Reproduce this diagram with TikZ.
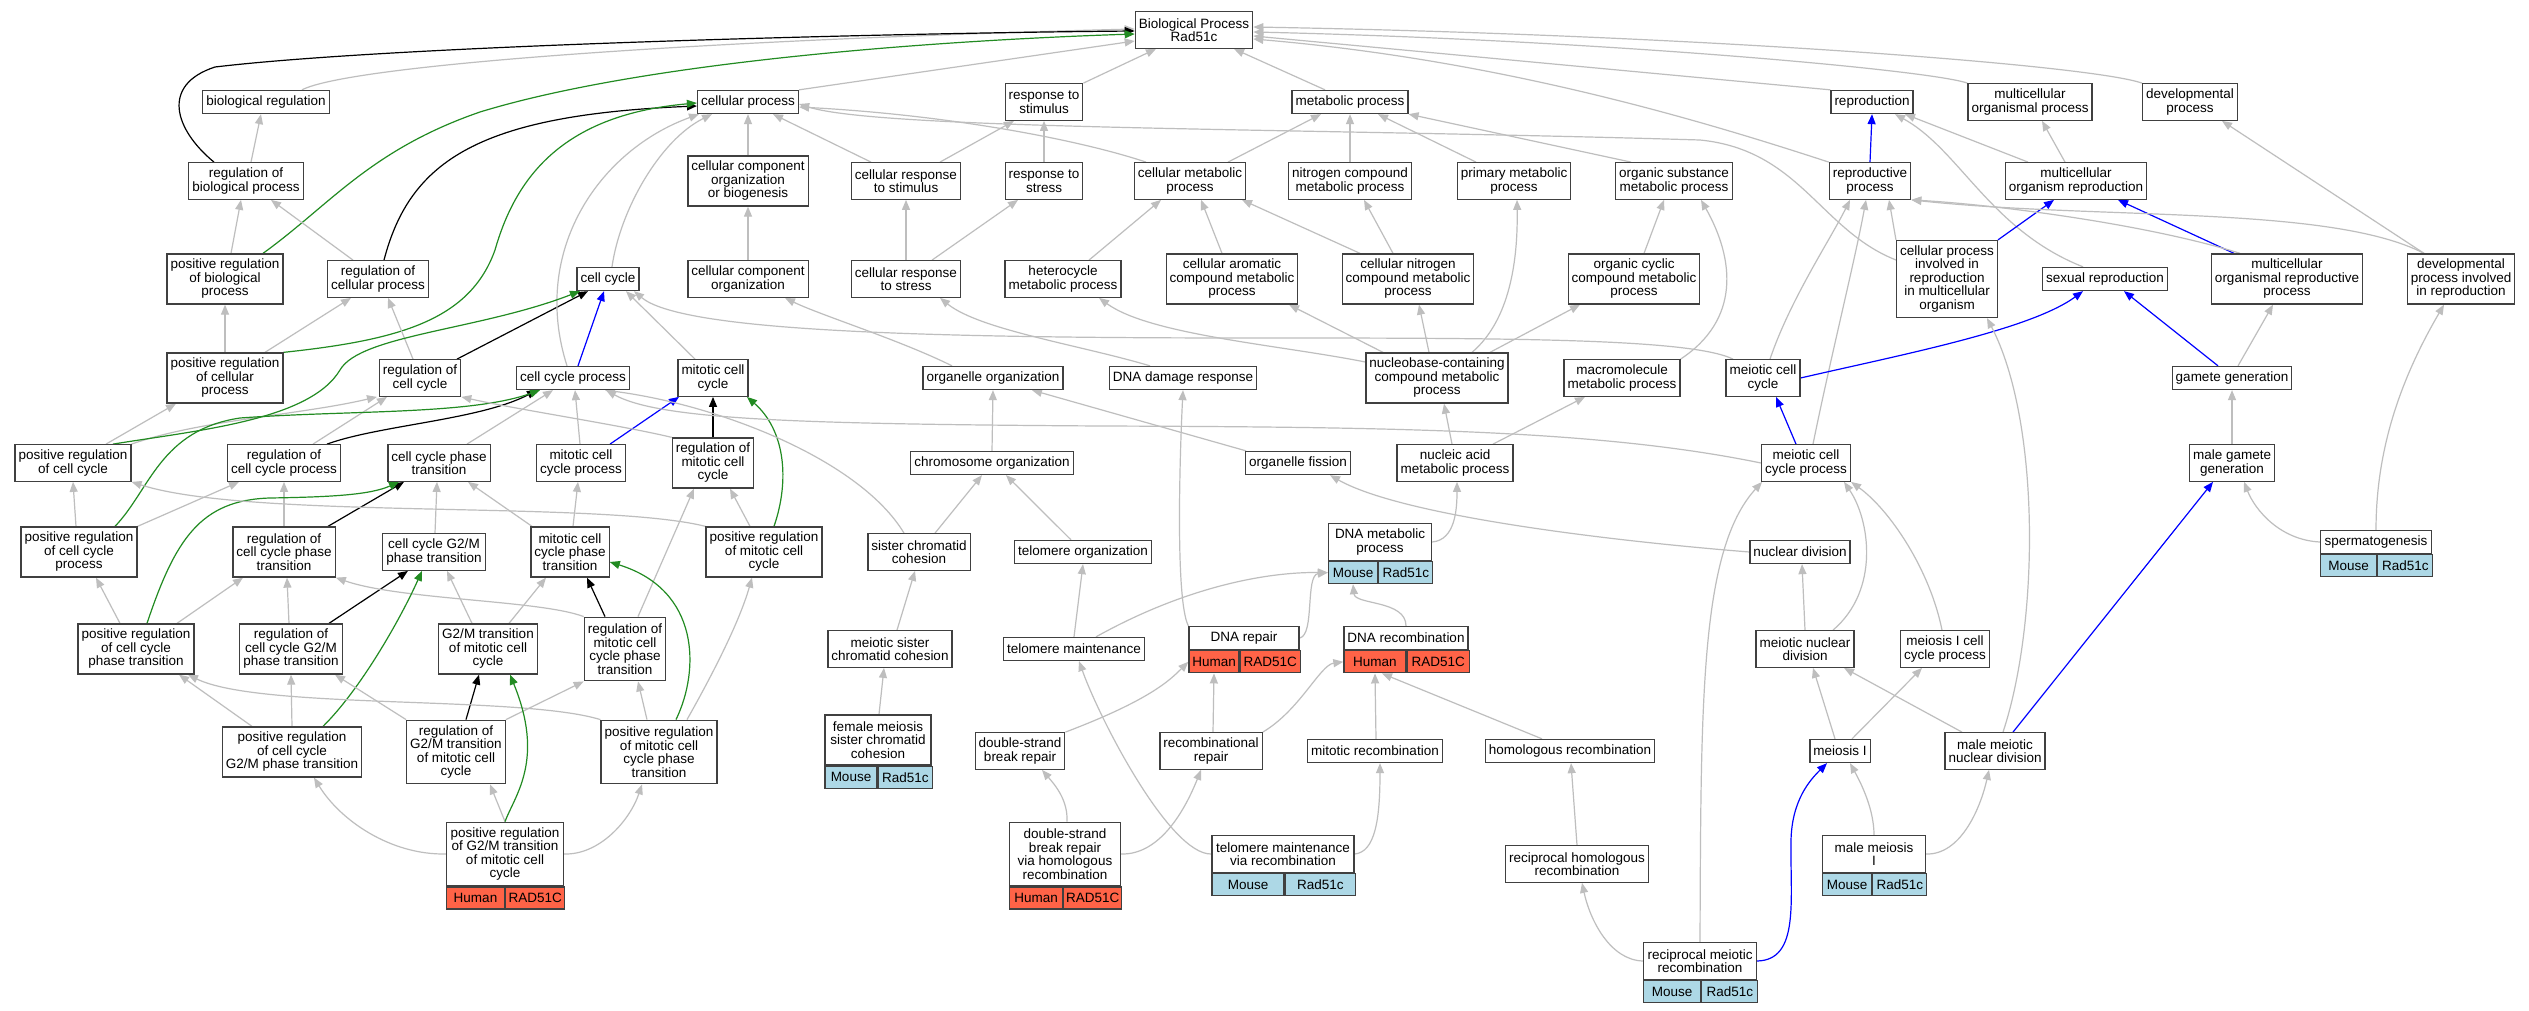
\documentclass[tikz,border=0pt]{standalone}
\usepackage{fontspec}
\setmainfont{Liberation Sans}
\usetikzlibrary{arrows.meta}
\definecolor{isagray}{HTML}{BEBEBE}
\definecolor{posgreen}{HTML}{228B22}
\definecolor{partblue}{HTML}{0000FF}
\definecolor{humanred}{HTML}{FF6347}
\definecolor{mouseblue}{HTML}{ADD8E6}
\newcommand{\gofont}{\fontsize{13.5}{13.5}\selectfont}
\pgfdeclarelayer{bg}
\pgfdeclarelayer{edges}
\pgfsetlayers{bg,edges,main}
\tikzset{
    term/.style={draw=black!75, line width=1.3pt, fill=white, align=center, inner xsep=3.5pt, inner ysep=1pt, font=\gofont},
    l1/.style={minimum height=23pt},
    l2/.style={minimum height=36.5pt},
    l3/.style={minimum height=50pt},
    l4/.style={minimum height=63.5pt},
    l5/.style={minimum height=77pt},
    cell/.style={draw=black!75, line width=1.3pt, inner xsep=1pt, inner ysep=1pt, minimum height=22pt, font=\gofont},
    isa/.style={draw=isagray, line width=1.2pt, -{Triangle[length=10pt,width=8pt]}},
    regs/.style={isa, draw=black},
    posreg/.style={isa, draw=posgreen},
    partof/.style={isa, draw=partblue}
}
\newcommand{\annotnode}[9]{%
    \node[term,#3,minimum width=#4] (#1) at #2 {#6};
    \node[cell,fill=#9,minimum width=#5,anchor=north west] (#1-s) at (#1.south west) {#7};
    \node[cell,fill=#9,minimum width=#4-#5,anchor=north west] (#1-g) at (#1-s.north east) {#8};
}
\begin{document}
\begin{tikzpicture}[x=1pt, y=-1pt]
    \useasboundingbox (0,0) rectangle (2529,1011);
    \begin{pgfonlayer}{bg}
        \fill[white] (0,0) rectangle (2529,1011);
    \end{pgfonlayer}

    \node[term,l2] (bp) at (1194,30) {Biological Process\\Rad51c};
    \node[term,l1] (bioreg) at (266,102) {biological regulation};
    \node[term,l1] (celproc) at (748,102) {cellular process};
    \node[term,l2] (respstim) at (1044,102) {response to\\stimulus};
    \node[term,l1] (metab) at (1350,102) {metabolic process};
    \node[term,l1] (repro) at (1872,102) {reproduction};
    \node[term,l2] (mcop) at (2030,102) {multicellular\\organismal process};
    \node[term,l2] (devproc) at (2190,102) {developmental\\process};

    \node[term,l2] (regbio) at (246,181) {regulation of\\biological process};
    \node[term,l3] (ccorgbio) at (748,181) {cellular component\\organization\\or biogenesis};
    \node[term,l2] (cresstim) at (906,181) {cellular response\\to stimulus};
    \node[term,l2] (resstress) at (1044,181) {response to\\stress};
    \node[term,l2] (cmetab) at (1190,181) {cellular metabolic\\process};
    \node[term,l2] (ncmetab) at (1350,181) {nitrogen compound\\metabolic process};
    \node[term,l2] (primetab) at (1514,181) {primary metabolic\\process};
    \node[term,l2] (osmetab) at (1674,181) {organic substance\\metabolic process};
    \node[term,l2] (reprop) at (1870,181) {reproductive\\process};
    \node[term,l2] (mor) at (2076,181) {multicellular\\organism reproduction};

    \node[term,l3] (posregbio) at (225,279) {positive regulation\\of biological\\process};
    \node[term,l2] (regcellp) at (378,279) {regulation of\\cellular process};
    \node[term,l1] (cellcycle) at (608,279) {cell cycle};
    \node[term,l2] (ccorg) at (748,279) {cellular component\\organization};
    \node[term,l2] (cresstress) at (906,279) {cellular response\\to stress};
    \node[term,l2] (hetmetab) at (1063,279) {heterocycle\\metabolic process};
    \node[term,l3] (caromat) at (1232,279) {cellular aromatic\\compound metabolic\\process};
    \node[term,l3] (cnitro) at (1408,279) {cellular nitrogen\\compound metabolic\\process};
    \node[term,l3] (ocyclic) at (1634,279) {organic cyclic\\compound metabolic\\process};
    \node[term,l5] (cpinvrep) at (1947,279) {cellular process\\involved in\\reproduction\\in multicellular\\organism};
    \node[term,l1] (sexrep) at (2105,279) {sexual reproduction};
    \node[term,l3] (morp) at (2287,279) {multicellular\\organismal reproductive\\process};
    \node[term,l3] (devinvrep) at (2461,279) {developmental\\process involved\\in reproduction};

    \node[term,l3] (posregcellp) at (225,378) {positive regulation\\of cellular\\process};
    \node[term,l2] (regcc) at (420,378) {regulation of\\cell cycle};
    \node[term,l1] (ccproc) at (573,378) {cell cycle process};
    \node[term,l2] (mitcc) at (713,378) {mitotic cell\\cycle};
    \node[term,l1] (orgorg) at (993,378) {organelle organization};
    \node[term,l1] (dnadamage) at (1183,378) {DNA damage response};
    \node[term,l3] (nucleobase) at (1437,378) {nucleobase-containing\\compound metabolic\\process};
    \node[term,l2] (macromol) at (1622,378) {macromolecule\\metabolic process};
    \node[term,l2] (meicc) at (1763,378) {meiotic cell\\cycle};
    \node[term,l1] (gamgen) at (2232,378) {gamete generation};

    \node[term,l2] (posregcc) at (73,463) {positive regulation\\of cell cycle};
    \node[term,l2] (regccp) at (284,463) {regulation of\\cell cycle process};
    \node[term,l2] (ccpt) at (439,463) {cell cycle phase\\transition};
    \node[term,l2] (mitccp) at (581,463) {mitotic cell\\cycle process};
    \node[term,l3] (regmitcc) at (713,463) {regulation of\\mitotic cell\\cycle};
    \node[term,l1] (chromorg) at (992,463) {chromosome organization};
    \node[term,l1] (orgfis) at (1298,463) {organelle fission};
    \node[term,l2] (nucacid) at (1455,463) {nucleic acid\\metabolic process};
    \node[term,l2] (meiccp) at (1806,463) {meiotic cell\\cycle process};
    \node[term,l2] (malegam) at (2232,463) {male gamete\\generation};

    \node[term,l3] (posregccp) at (79,552) {positive regulation\\of cell cycle\\process};
    \node[term,l3] (regccpt) at (284,552) {regulation of\\cell cycle phase\\transition};
    \node[term,l2] (ccg2m) at (434,552) {cell cycle G2/M\\phase transition};
    \node[term,l3] (mitccpt) at (570,552) {mitotic cell\\cycle phase\\transition};
    \node[term,l3] (posregmitcc) at (764,552) {positive regulation\\of mitotic cell\\cycle};
    \node[term,l2] (scc) at (919,552) {sister chromatid\\cohesion};
    \node[term,l1] (telorg) at (1083,552) {telomere organization};
    \annotnode{dnameta}{(1380,542)}{l2}{103}{49}{DNA metabolic\\process}{Mouse}{Rad51c}{mouseblue}
    \node[term,l1] (nucdiv) at (1800,552) {nuclear division};
    \annotnode{sperm}{(2376,542)}{l1}{111}{56}{spermatogenesis}{Mouse}{Rad51c}{mouseblue}

    \node[term,l3] (posregccpt) at (136,649) {positive regulation\\of cell cycle\\phase transition};
    \node[term,l3] (regccg2m) at (291,649) {regulation of\\cell cycle G2/M\\phase transition};
    \node[term,l3] (g2mmit) at (488,649) {G2/M transition\\of mitotic cell\\cycle};
    \node[term,l4] (regmitccpt) at (625,649) {regulation of\\mitotic cell\\cycle phase\\transition};
    \node[term,l2] (meiscc) at (890,649) {meiotic sister\\chromatid cohesion};
    \node[term,l1] (telmaint) at (1074,649) {telomere maintenance};
    \annotnode{dnarepair}{(1244,638)}{l1}{110}{50}{DNA repair}{Human}{RAD51C}{humanred}
    \annotnode{dnarecomb}{(1406,638)}{l1}{124}{62}{DNA recombination}{Human}{RAD51C}{humanred}
    \node[term,l2] (meind) at (1805,649) {meiotic nuclear\\division};
    \node[term,l2] (meiIccp) at (1945,649) {meiosis I cell\\cycle process};

    \node[term,l3] (posregccg2m) at (292,752) {positive regulation\\of cell cycle\\G2/M phase transition};
    \node[term,l4] (regg2mmit) at (456,752) {regulation of\\G2/M transition\\of mitotic cell\\cycle};
    \node[term,l4] (posregmitccpt) at (659,752) {positive regulation\\of mitotic cell\\cycle phase\\transition};
    \annotnode{femscc}{(878,740)}{l3}{106}{52}{female meiosis\\sister chromatid\\cohesion}{Mouse}{Rad51c}{mouseblue}
    \node[term,l2] (dsbr) at (1020,751) {double-strand\\break repair};
    \node[term,l2] (recrep) at (1211,751) {recombinational\\repair};
    \node[term,l1] (mitrec) at (1375,751) {mitotic recombination};
    \node[term,l1] (homrec) at (1570,751) {homologous recombination};
    \node[term,l1] (meiI) at (1840,751) {meiosis I};
    \node[term,l2] (malemeind) at (1995,751) {male meiotic\\nuclear division};

    \annotnode{posregg2mmit}{(505,854)}{l4}{117}{58}{positive regulation\\of G2/M transition\\of mitotic cell\\cycle}{Human}{RAD51C}{humanred}
    \annotnode{dsbrhr}{(1065,854)}{l4}{111}{53}{double-strand\\break repair\\via homologous\\recombination}{Human}{RAD51C}{humanred}
    \annotnode{telmaintrec}{(1283,854)}{l2}{142}{72}{telomere maintenance\\via recombination}{Mouse}{Rad51c}{mouseblue}
    \node[term,l2] (recihom) at (1577,864) {reciprocal homologous\\recombination};
    \annotnode{malemeiI}{(1874,854)}{l2}{103}{49}{male meiosis\\I}{Mouse}{Rad51c}{mouseblue}
    \annotnode{recimei}{(1700,961)}{l2}{113}{57}{reciprocal meiotic\\recombination}{Mouse}{Rad51c}{mouseblue}

    \begin{pgfonlayer}{edges}
    \draw[isa] ([xshift=36pt]bioreg.north) .. controls (350,65) and (700,40) .. ([yshift=1pt]bp.west);
    \draw[regs] ([xshift=-32pt]regbio.north) .. controls (175,130) and (160,85) .. (215,67) .. controls (400,45) and (900,33) .. ([yshift=-1pt]bp.west);
    \draw[posreg] ([xshift=38pt]posregbio.north) .. controls (330,205) and (370,150) .. (480,112) .. controls (650,60) and (950,40) .. ([yshift=-4pt]bp.west);
    \draw[isa] (celproc.north east) -- ([yshift=-11pt]bp.west);
    \draw[isa] (respstim.north east) -- ([xshift=-38pt]bp.south);
    \draw[isa] ([xshift=-25pt]metab.north) -- ([xshift=40pt]bp.south);
    \draw[isa] (repro.north west) -- ([yshift=-6pt]bp.east);
    \draw[isa] (reprop.north west) .. controls (1700,120) and (1500,60) .. ([yshift=-9pt]bp.east);
    \draw[isa] (mcop.north west) .. controls (1930,70) and (1600,40) .. ([yshift=-2pt]bp.east);
    \draw[isa] (devproc.north west) .. controls (2090,65) and (1700,35) .. ([yshift=3pt]bp.east);

    \draw[isa] ([xshift=5pt]regbio.north) -- ([xshift=-5pt]bioreg.south);
    \draw[isa] ([xshift=6pt]posregbio.north) -- ([xshift=-5pt]regbio.south);
    \draw[isa] ([xshift=-25pt]regcellp.north) -- ([xshift=25pt]regbio.south);
    \draw[regs] ([xshift=6pt]regcellp.north) .. controls (410,160) and (480,115) .. ([yshift=-4pt]celproc.west);
    \draw[isa] (posregcellp.north) -- (posregbio.south);
    \draw[isa] ([xshift=40pt]posregcellp.north) -- ([xshift=-27pt]regcellp.south);
    \draw[posreg] (posregcellp.north east) .. controls (400,340) and (470,320) .. (495,250) .. controls (515,180) and (560,115) .. ([yshift=-1pt]celproc.west);
    \draw[isa] ([xshift=-7pt]regcc.north) -- ([xshift=10pt]regcellp.south);
    \draw[regs] ([xshift=37pt]regcc.north) -- ([xshift=-20pt]cellcycle.south);
    \draw[partof] ([xshift=5pt]ccproc.north) -- ([xshift=-4pt]cellcycle.south);
    \draw[isa] ([xshift=4pt]cellcycle.north) .. controls (620,210) and (660,140) .. ([xshift=-36pt]celproc.south);
    \draw[isa] ([xshift=-6pt]ccproc.north) .. controls (530,250) and (600,150) .. ([xshift=-49pt]celproc.south);
    \draw[isa] ([xshift=-18pt]mitcc.north) -- ([xshift=18pt]cellcycle.south);
    \draw[isa] ([xshift=-30pt]meicc.north) .. controls (1690,338) and (1500,338) .. (1250,338) .. controls (900,338) and (680,330) .. ([xshift=26pt]cellcycle.south);

    \draw[isa] ([xshift=-1pt]mitccp.north) -- ([xshift=2pt]ccproc.south);
    \draw[partof] ([xshift=29pt]mitccp.north) -- ([xshift=-34pt]mitcc.south);
    \draw[isa] ([xshift=28pt]ccpt.north) -- ([xshift=-20pt]ccproc.south);
    \draw[isa] ([xshift=29pt]regccp.north) -- ([xshift=-33pt]regcc.south);
    \draw[regs] ([xshift=43pt]regccp.north) .. controls (380,425) and (480,420) .. ([xshift=-36pt]ccproc.south);
    \draw[isa] ([xshift=33pt]posregcc.north) -- ([xshift=-49pt]posregcellp.south);
    \draw[isa] (posregcc.north east) .. controls (200,420) and (300,415) .. ([xshift=-43pt]regcc.south);
    \draw[posreg] ([xshift=40pt]posregcc.north) .. controls (200,430) and (310,420) .. (340,370) .. controls (360,335) and (480,330) .. ([xshift=-28pt]cellcycle.south);
    \draw[posreg] ([xshift=36pt]posregccp.north) .. controls (150,490) and (160,430) .. (240,418) .. controls (350,410) and (470,415) .. ([xshift=-33pt]ccproc.south);
    \draw[isa] ([xshift=-3pt]posregccp.north) -- (posregcc.south);
    \draw[isa] (posregccp.north east) -- ([xshift=-45pt]regccp.south);
    \draw[isa] (regccpt.north) -- (regccp.south);
    \draw[regs] ([xshift=44pt]regccpt.north) -- ([xshift=-35pt]ccpt.south);
    \draw[isa] ([xshift=1pt]ccg2m.north) -- ([xshift=-2pt]ccpt.south);
    \draw[isa] ([xshift=-38pt]mitccpt.north) -- ([xshift=29pt]ccpt.south);
    \draw[isa] ([xshift=3pt]mitccpt.north) -- ([xshift=-3pt]mitccp.south);
    \draw[isa] ([xshift=-16pt]posregccpt.north) -- ([xshift=17pt]posregccp.south);
    \draw[isa] ([xshift=41pt]posregccpt.north) -- ([xshift=-41pt]regccpt.south);
    \draw[posreg] ([xshift=11pt]posregccpt.north) .. controls (175,540) and (200,500) .. (270,498) .. controls (330,497) and (370,495) .. ([xshift=-40pt]ccpt.south);
    \draw[isa] ([xshift=-2pt]regccg2m.north) -- ([xshift=3pt]regccpt.south);
    \draw[regs] ([xshift=38pt]regccg2m.north) -- ([xshift=-26pt]ccg2m.south);
    \draw[isa] ([xshift=-16pt]g2mmit.north) -- ([xshift=13pt]ccg2m.south);
    \draw[isa] ([xshift=21pt]g2mmit.north) -- ([xshift=-24pt]mitccpt.south);
    \draw[isa] (regmitccpt.north west) .. controls (540,600) and (400,600) .. (regccpt.south east);
    \draw[regs] ([xshift=-20pt]regmitccpt.north) -- ([xshift=17pt]mitccpt.south);
    \draw[isa] ([xshift=13pt]regmitccpt.north) -- ([xshift=-19pt]regmitcc.south);
    \draw[isa] ([xshift=-40pt]posregccg2m.north) -- ([xshift=43pt]posregccpt.south);
    \draw[isa] (posregccg2m.north) -- (regccg2m.south);
    \draw[posreg] ([xshift=31pt]posregccg2m.north) .. controls (360,690) and (400,620) .. ([xshift=-12pt]ccg2m.south);
    \draw[isa] (regg2mmit.north west) -- ([xshift=44pt]regccg2m.south);
    \draw[regs] ([xshift=10pt]regg2mmit.north) -- ([xshift=-9pt]g2mmit.south);
    \draw[isa] (regg2mmit.north east) -- (regmitccpt.south west);
    \draw[isa] (posregmitccpt.north west) .. controls (520,695) and (260,710) .. ([xshift=52pt]posregccpt.south);
    \draw[isa] ([xshift=-12pt]posregmitccpt.north) -- ([xshift=13pt]regmitccpt.south);
    \draw[posreg] ([xshift=17pt]posregmitccpt.north) .. controls (700,670) and (700,590) .. ([yshift=-10pt]mitccpt.east);
    \draw[isa] ([xshift=28pt]posregmitccpt.north) .. controls (715,670) and (740,620) .. ([xshift=-12pt]posregmitcc.south);
    \draw[isa] (posregg2mmit.west) .. controls (390,855) and (340,820) .. ([xshift=22pt]posregccg2m.south);
    \draw[isa] (posregg2mmit.north) -- ([xshift=34pt]regg2mmit.south);
    \draw[posreg] (posregg2mmit.north) .. controls (515,795) and (545,760) .. ([xshift=22pt]g2mmit.south);
    \draw[isa] (posregg2mmit.east) .. controls (600,855) and (630,820) .. ([xshift=-17pt]posregmitccpt.south);
    \draw[regs] (regmitcc.north) -- (mitcc.south);
    \draw[isa] (regmitcc.north west) .. controls (620,425) and (520,410) .. (regcc.south east);
    \draw[isa] ([xshift=-14pt]posregmitcc.north) -- ([xshift=17pt]regmitcc.south);
    \draw[posreg] ([xshift=10pt]posregmitcc.north) .. controls (790,480) and (785,430) .. ([xshift=34pt]mitcc.south);
    \draw[isa] (posregmitcc.north west) .. controls (600,500) and (250,520) .. (posregcc.south east);

    \draw[isa] ([xshift=-15pt]scc.north) .. controls (860,460) and (720,405) .. ([xshift=32pt]ccproc.south);
    \draw[isa] (meiccp.west) .. controls (1600,430) and (1400,427) .. (1100,426) .. controls (800,424) and (660,420) .. ([xshift=33pt]ccproc.south);
    \draw[isa] ([xshift=-41pt]orgorg.north) .. controls (900,340) and (820,315) .. ([xshift=37pt]ccorg.south);
    \draw[isa] (chromorg.north) -- (orgorg.south);
    \draw[isa] ([xshift=-52pt]orgfis.north) -- ([xshift=39pt]orgorg.south);
    \draw[isa] ([xshift=16pt]scc.north) -- ([xshift=-10pt]chromorg.south);
    \draw[isa] ([xshift=-12pt]telorg.north) -- ([xshift=14pt]chromorg.south);
    \draw[isa] ([xshift=7pt]meiscc.north) -- ([xshift=-4pt]scc.south);
    \draw[isa] ([xshift=1pt]femscc.north) -- ([xshift=-6pt]meiscc.south);
    \draw[isa] (telmaint.north) -- (telorg.south);
    \draw[isa] ([xshift=22pt]telmaint.north) .. controls (1180,590) and (1260,572) .. (dnameta-s.west);
    \draw[isa] (dnarepair.east) .. controls (1315,635) and (1305,575) .. (dnameta-s.west);
    \draw[isa] (dnarepair.north west) .. controls (1175,600) and (1180,450) .. (dnadamage.south);
    \draw[isa] (dnarecomb.north) .. controls (1406,600) and (1355,605) .. (dnameta-s.south);
    \draw[isa] ([xshift=-33pt]dnadamage.north) .. controls (1080,345) and (980,330) .. ([xshift=34pt]cresstress.south);

    \draw[isa] (cresstress.north) -- (cresstim.south);
    \draw[isa] ([xshift=26pt]cresstress.north) -- ([xshift=-26pt]resstress.south);
    \draw[isa] (resstress.north) -- (respstim.south);
    \draw[isa] ([xshift=34pt]cresstim.north) -- ([xshift=-30pt]respstim.south);
    \draw[isa] ([xshift=-35pt]cresstim.north) -- ([xshift=25pt]celproc.south);
    \draw[isa] ([xshift=-44pt]cmetab.north) .. controls (1080,140) and (950,115) .. ([yshift=-5pt]celproc.east);
    \draw[isa] ([xshift=38pt]cmetab.north) -- ([xshift=-29pt]metab.south);
    \draw[isa] (ccorgbio.north) -- (celproc.south);
    \draw[isa] (ccorg.north) -- (ccorgbio.south);
    \draw[isa] ([xshift=26pt]hetmetab.north) -- ([xshift=-29pt]cmetab.south);
    \draw[isa] ([xshift=-10pt]caromat.north) -- ([xshift=11pt]cmetab.south);
    \draw[isa] ([xshift=-48pt]cnitro.north) -- ([xshift=52pt]cmetab.south);
    \draw[isa] ([xshift=-15pt]cnitro.north) -- ([xshift=14pt]ncmetab.south);
    \draw[isa] (ncmetab.north) -- (metab.south);
    \draw[isa] ([xshift=-38pt]primetab.north) -- ([xshift=28pt]metab.south);
    \draw[isa] ([xshift=-43pt]osmetab.north) -- (metab.south east);
    \draw[isa] ([xshift=10pt]ocyclic.north) -- ([xshift=-10pt]osmetab.south);
    \draw[isa] (macromol.north east) .. controls (1740,320) and (1735,260) .. ([xshift=27pt]osmetab.south);
    \draw[isa] ([yshift=16pt]nucleobase.west) .. controls (1280,345) and (1150,335) .. ([xshift=36pt]hetmetab.south);
    \draw[isa] ([xshift=-54pt]nucleobase.north) -- ([xshift=57pt]caromat.south);
    \draw[isa] ([xshift=-8pt]nucleobase.north) -- ([xshift=11pt]cnitro.south);
    \draw[isa] ([xshift=35pt]nucleobase.north) .. controls (1510,320) and (1518,260) .. ([xshift=3pt]primetab.south);
    \draw[isa] ([xshift=53pt]nucleobase.north) -- ([xshift=-54pt]ocyclic.south);
    \draw[isa] ([xshift=-3pt]nucacid.north) -- ([xshift=7pt]nucleobase.south);
    \draw[isa] ([xshift=38pt]nucacid.north) -- ([xshift=-37pt]macromol.south);
    \draw[isa] (dnameta.east) .. controls (1455,540) and (1457,510) .. ([xshift=2pt]nucacid.south);

    \draw[isa] ([xshift=7pt]meicc.north) .. controls (1790,300) and (1830,240) .. ([xshift=-20pt]reprop.south);
    \draw[isa] ([xshift=7pt]meiccp.north) .. controls (1830,360) and (1855,260) .. ([xshift=-4pt]reprop.south);
    \draw[partof] ([xshift=-10pt]meiccp.north) -- ([xshift=13pt]meicc.south);
    \draw[partof] (meicc.east) .. controls (1900,355) and (2030,330) .. ([xshift=-22pt]sexrep.south);
    \draw[partof] (reprop.north) -- (repro.south);
    \draw[isa] ([xshift=-48pt]mor.north) -- ([xshift=33pt]repro.south);
    \draw[isa] ([xshift=-11pt]mor.north) -- ([xshift=12pt]mcop.south);
    \draw[isa] ([xshift=-22pt]sexrep.north) .. controls (1990,230) and (1960,150) .. ([xshift=23pt]repro.south);
    \draw[isa] (cpinvrep.north west) -- ([xshift=19pt]reprop.south);
    \draw[partof] (cpinvrep.north east) -- ([xshift=-22pt]mor.south);
    \draw[isa] ([yshift=19pt]cpinvrep.west) .. controls (1820,230) and (1800,150) .. (1700,140) .. controls (1300,128) and (880,130) .. ([yshift=-2pt]celproc.east);
    \draw[partof] ([xshift=-53pt]morp.north) -- ([xshift=42pt]mor.south);
    \draw[isa] ([xshift=-47pt]morp.north) .. controls (2150,225) and (2000,205) .. (reprop.south east);
    \draw[isa] ([xshift=-37pt]devinvrep.north) .. controls (2330,205) and (2100,220) .. (reprop.south east);
    \draw[isa] ([xshift=-37pt]devinvrep.north) -- ([xshift=32pt]devproc.south);
    \draw[partof] ([xshift=-14pt]gamgen.north) -- ([xshift=19pt]sexrep.south);
    \draw[isa] ([xshift=6pt]gamgen.north) -- ([xshift=-14pt]morp.south);
    \draw[isa] (malegam.north) -- (gamgen.south);
    \draw[isa] (sperm.west) .. controls (2280,540) and (2255,510) .. ([xshift=12pt]malegam.south);
    \draw[isa] (sperm.north) .. controls (2376,450) and (2400,380) .. ([xshift=-17pt]devinvrep.south);
    \draw[partof] ([xshift=18pt]malemeind.north) -- ([xshift=-19pt]malegam.south);
    \draw[isa] ([xshift=8pt]malemeind.north) .. controls (2040,620) and (2040,420) .. ([xshift=40pt]cpinvrep.south);
    \draw[isa] ([xshift=-33pt]malemeind.north) -- ([xshift=39pt]meind.south);
    \draw[isa] (meind.north) -- ([xshift=2pt]nucdiv.south);
    \draw[isa] ([xshift=28pt]meind.north) .. controls (1880,590) and (1870,520) .. ([xshift=38pt]meiccp.south);
    \draw[isa] ([xshift=-3pt]meiIccp.north) .. controls (1930,570) and (1890,510) .. (meiccp.south east);
    \draw[isa] (nucdiv.west) .. controls (1600,540) and (1400,515) .. ([xshift=32pt]orgfis.south);
    \draw[isa] ([xshift=-5pt]meiI.north) -- ([xshift=8pt]meind.south);
    \draw[isa] ([xshift=12pt]meiI.north) -- ([xshift=-23pt]meiIccp.south);
    \draw[isa] (malemeiI.north) .. controls (1874,810) and (1862,785) .. ([xshift=10pt]meiI.south);
    \draw[isa] (malemeiI.east) .. controls (1960,855) and (1980,810) .. ([xshift=-6pt]malemeind.south);
    \draw[partof] (recimei.east) .. controls (1800,960) and (1790,900) .. (1791,840) .. controls (1792,800) and (1810,780) .. ([xshift=-13pt]meiI.south);
    \draw[isa] (recimei.north) .. controls (1701,700) and (1700,550) .. ([xshift=-44pt]meiccp.south);
    \draw[isa] (recimei.west) .. controls (1610,960) and (1590,920) .. ([xshift=5pt]recihom.south);
    \draw[isa] (recihom.north) -- ([xshift=1pt]homrec.south);
    \draw[isa] ([xshift=-28pt]homrec.north) -- ([xshift=7pt]dnarecomb-s.south);
    \draw[isa] ([xshift=1pt]mitrec.north) -- (dnarecomb-s.south);
    \draw[isa] (telmaintrec.east) .. controls (1375,852) and (1380,820) .. ([xshift=5pt]mitrec.south);
    \draw[isa] (telmaintrec.west) .. controls (1170,855) and (1100,720) .. ([xshift=5pt]telmaint.south);
    \draw[isa] ([xshift=2pt]dsbrhr.north) .. controls (1068,800) and (1055,785) .. ([xshift=22pt]dsbr.south);
    \draw[isa] (dsbrhr.east) .. controls (1160,855) and (1185,810) .. ([xshift=-10pt]recrep.south);
    \draw[isa] (dsbr.north east) .. controls (1150,700) and (1170,680) .. (dnarepair-s.west);
    \draw[isa] ([xshift=2pt]recrep.north) -- (dnarepair-s.south);
    \draw[isa] (recrep.north east) .. controls (1300,710) and (1320,665) .. (dnarecomb-s.west);
    \end{pgfonlayer}
\end{tikzpicture}
\end{document}
